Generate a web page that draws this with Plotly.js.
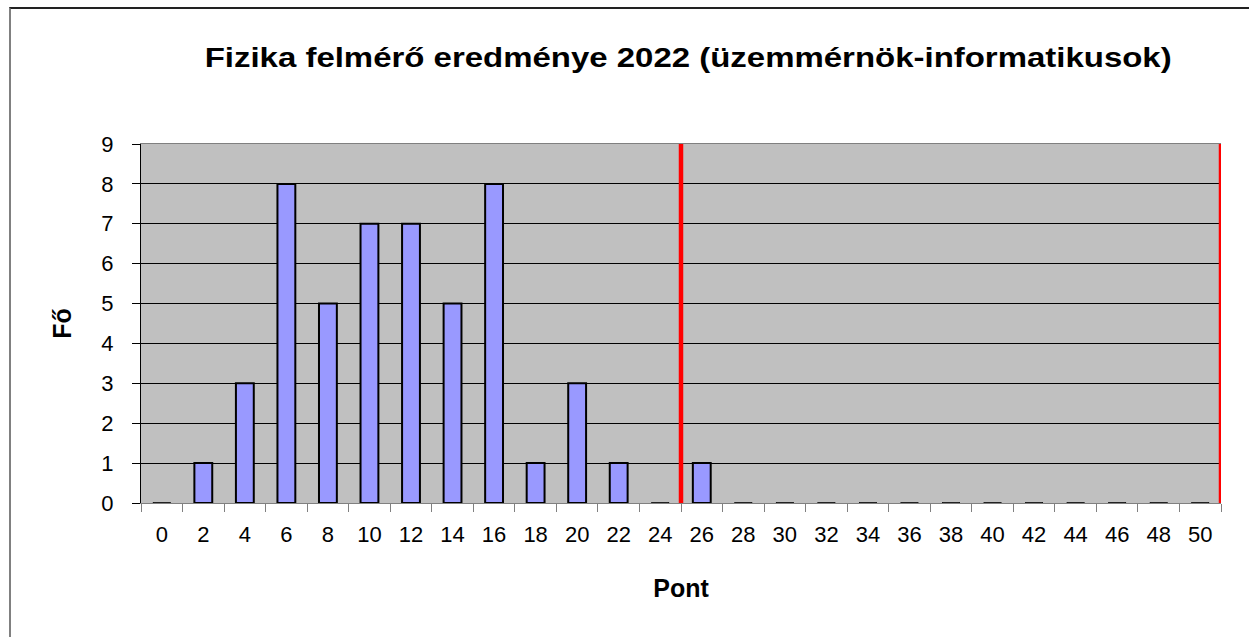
<!DOCTYPE html>
<html>
<head>
<meta charset="utf-8">
<script src="https://cdn.plot.ly/plotly-3.0.1.min.js"></script>
<style>
  html, body { margin: 0; padding: 0; background: #fff; overflow: hidden; }
  #wrap { position: relative; width: 1249px; height: 637px; }
  #chart { position: absolute; left: 0; top: 0; width: 1249px; height: 637px; }
  #frame { position: absolute; left: 9px; top: 7px; width: 1300px; height: 700px;
           border-top: 2px solid #222; border-left: 2px solid #808080; pointer-events: none; }
</style>
</head>
<body>
<div id="wrap">
  <div id="chart"></div>
  <div id="frame"></div>
</div>
<script>
const chartTitle = 'Fizika felmérő eredménye 2022 (üzemmérnök-informatikusok)';
const xTitle = 'Pont';
const yTitle = 'Fő';
const points = [0, 2, 4, 6, 8, 10, 12, 14, 16, 18, 20, 22, 24, 26, 28, 30, 32, 34, 36, 38, 40, 42, 44, 46, 48, 50];
const counts = [0, 1, 3, 8, 5, 7, 7, 5, 8, 1, 3, 1, 0, 1, 0, 0, 0, 0, 0, 0, 0, 0, 0, 0, 0, 0];
const markLines = [25, 51];

const zeroX = points.filter((p, i) => counts[i] === 0);
const zeroY = zeroX.map(() => 0);

const font = 'Liberation Sans, Arial, sans-serif';

const traces = [
  {
    type: 'bar',
    x: points,
    y: counts,
    marker: { color: '#9999FF', line: { color: '#000000', width: 2 } },
    hoverinfo: 'x+y'
  },
  {
    type: 'scatter',
    mode: 'markers',
    x: zeroX,
    y: zeroY,
    cliponaxis: false,
    marker: { symbol: 'line-ew', size: 12, line: { color: '#222222', width: 2 } },
    hoverinfo: 'skip'
  }
];

const shapes = markLines.map(v => ({
  type: 'line', xref: 'x', yref: 'paper',
  x0: v, x1: v, y0: 0, y1: 1,
  line: { color: '#FF0000', width: 4.5 }
}));

const layout = {
  width: 1249, height: 637,
  margin: { l: 141, r: 28, t: 144, b: 134 },
  paper_bgcolor: '#FFFFFF',
  plot_bgcolor: '#C0C0C0',
  showlegend: false,
  bargap: 0.57,
  font: { family: font, color: '#000000', size: 22 },
  title: {
    text: chartTitle,
    font: { family: font, size: 27, weight: 700, color: '#000000' },
    x: 0.551, xref: 'container', xanchor: 'center',
    y: 0.909, yref: 'container', yanchor: 'middle'
  },
  xaxis: {
    range: [-1, 51],
    tickmode: 'array',
    tickvals: points,
    ticktext: points.map(String),
    ticks: '',
    ticklen: 0,
    minor: { tick0: 1, dtick: 2, ticks: 'outside', ticklen: 8, tickwidth: 1, tickcolor: '#808080', showgrid: false },
    ticklabelstandoff: 12,
    showgrid: false,
    zeroline: false,
    showline: true,
    linecolor: '#808080',
    linewidth: 1,
    mirror: true,
    tickfont: { family: font, size: 22, color: '#000000' },
    title: { text: xTitle, font: { family: font, size: 25, weight: 700, color: '#000000' }, standoff: 33 },
    automargin: false,
    fixedrange: true
  },
  yaxis: {
    range: [0, 9],
    dtick: 1,
    tick0: 0,
    ticks: 'outside',
    ticklen: 8,
    tickcolor: '#000000',
    tickwidth: 1,
    ticklabelstandoff: 14,
    showgrid: true,
    gridcolor: '#000000',
    gridwidth: 1,
    zeroline: false,
    showline: true,
    linecolor: '#000000',
    linewidth: 1,
    tickfont: { family: font, size: 22, color: '#000000' },
    title: { text: yTitle, font: { family: font, size: 25, weight: 700, color: '#000000' }, standoff: 22 },
    automargin: false,
    fixedrange: true
  },
  shapes: shapes
};

Plotly.newPlot('chart', traces, layout, { displayModeBar: false, staticPlot: true }).then(gd => {
  // the reference title is drawn horizontally stretched; widen the real text to match
  const t = gd.querySelector('.gtitle');
  if (t) {
    t.setAttribute('textLength', '967');
    t.setAttribute('lengthAdjust', 'spacingAndGlyphs');
  }
});
</script>
</body>
</html>
